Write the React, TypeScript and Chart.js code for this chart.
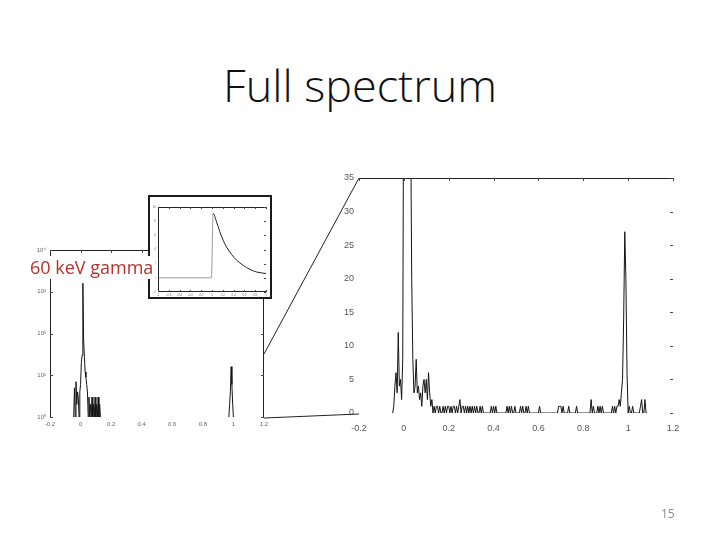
import React, { useEffect, useRef } from "react";
import { Chart, registerables } from "chart.js";

Chart.register(...registerables);

// ---------- data ----------
// Main (linear) spectrum: counts per 0.005 energy bin, starting at -0.05
const SPEC_START = -0.05;
const SPEC_STEP = 0.005;
const specCounts = [
  0, 1, 4, 6, 3, 12, 4, 5, 2, 8,
  60, 400, 1500, 1200, 600, 150, 45, 20, 8, 3, 4, 8, 3, 4, 2, 3, 1, 4, 5, 3,
  5, 2, 6, 3, 1, 2, 0, 1, 0, 1, 1, 0, 1, 0, 0, 1, 0, 1, 0, 1,
  1, 0, 1, 0, 1, 1, 0, 1, 0, 1, 2, 0, 1, 1, 0, 1, 0, 1, 0, 1,
  0, 1, 0, 1, 0, 1, 0, 0, 1, 0, 1, 0, 0, 0, 0, 0, 0, 0, 1, 0,
  1, 0, 1, 0, 0, 0, 0, 0, 0, 0, 0, 0, 1, 0, 1, 0, 1, 0, 0, 1,
  0, 0, 0, 0, 1, 0, 1, 0, 0, 1, 0, 1, 0, 0, 0, 0, 0, 0, 0, 0,
  0, 1, 0, 0, 0, 0, 0, 0, 0, 0, 0, 0, 0, 0, 0, 0, 0, 0, 1, 1,
  1, 0, 1, 0, 0, 0, 0, 1, 0, 0, 0, 0, 0, 0, 1, 0, 0, 0, 0, 0,
  0, 0, 0, 0, 0, 0, 0, 2, 0, 1, 0, 0, 0, 1, 0, 1, 0, 1, 0, 0,
  0, 0, 0, 0, 0, 0, 1, 0, 1, 0, 1, 1, 2, 1, 3, 5, 14, 27, 20, 6,
  0, 1, 0, 0, 1, 0, 0, 0, 0, 0, 0, 1, 2, 0, 0, 2, 0, 0,
];
const specTicksX = [-0.2, 0, 0.2, 0.4, 0.6, 0.8, 1, 1.2];
const specTicksY = [0, 5, 10, 15, 20, 25, 30, 35];

// Log-scale overview: two clusters
const lowEnergy = [
  -0.05, -0.045, -0.04, -0.035, -0.03, -0.025, -0.02, -0.015, -0.01, -0.005,
  0, 0.005, 0.01, 0.015, 0.02, 0.025, 0.03, 0.035, 0.04, 0.045,
  0.05, 0.055, 0.06, 0.065, 0.07, 0.075, 0.08, 0.085, 0.09, 0.095,
  0.1, 0.105, 0.11, 0.115, 0.12, 0.125, 0.13,
];
const lowCounts = [
  1, 1, 5, 1, 7, 2, 4, 3, 1, 4,
  6, 20, 30, 1600, 70, 28, 12, 9, 6, 4,
  1, 3, 1, 2, 1, 3, 1, 2, 1, 3,
  1, 2, 1, 3, 1, 2, 1,
];
const highEnergy = [0.97, 0.975, 0.98, 0.985, 0.99, 0.995, 1.0, 1.005];
const highCounts = [1, 2, 4, 16, 6, 2, 1, 1];
const logTicksY = [1, 10, 100, 1000, 10000];

// Inset: pulse shape
const pulseTime = [-1, -0.01, 0.02, 0.084, 0.146, 0.207, 0.269, 0.362, 0.455, 0.579, 0.703, 0.827, 1.0];
const pulseAmp = [0, 0, 9.1, 7.9, 6.5, 5.3, 4.35, 3.3, 2.5, 1.76, 1.2, 0.82, 0.62];
const pulseTicksX = [-1, -0.8, -0.6, -0.4, -0.2, 0, 0.2, 0.4, 0.6, 0.8, 1];
const pulseTicksY = [-2, 0, 2, 4, 6, 8, 10];

// ---------- helpers ----------
const AXIS_FONT = "'Liberation Sans', Arial, sans-serif";
const SUP = ["⁰", "¹", "²", "³", "⁴", "⁵"];

const fmt = (v: number) => String(+v.toFixed(2));

const boxPlugin = {
  id: "mbox",
  afterDraw(chart: any, _args: any, opts: any) {
    const { ctx, chartArea } = chart;
    const { left, right, top, bottom } = chartArea;
    ctx.save();
    ctx.strokeStyle = opts.color || "#222";
    ctx.lineWidth = opts.width || 1;
    const b = opts.border || {};
    ctx.beginPath();
    if (b.top) { ctx.moveTo(left, top + 0.5); ctx.lineTo(right, top + 0.5); }
    if (b.bottom) { ctx.moveTo(left, bottom - 0.5); ctx.lineTo(right, bottom - 0.5); }
    if (b.left) { ctx.moveTo(left + 0.5, top); ctx.lineTo(left + 0.5, bottom); }
    if (b.right) { ctx.moveTo(right - 0.5, top); ctx.lineTo(right - 0.5, bottom); }
    ctx.stroke();
    const len = opts.tickLen || 3;
    const t = opts.ticks || {};
    const xs = chart.scales.x;
    const ys = chart.scales.y;
    ctx.lineWidth = 1;
    ctx.strokeStyle = opts.tickColor || "#444";
    ctx.beginPath();
    xs.ticks.forEach((tk: any) => {
      const p = Math.round(xs.getPixelForValue(tk.value)) + 0.5;
      if (t.top) { ctx.moveTo(p, top); ctx.lineTo(p, top + len); }
      if (t.bottom) { ctx.moveTo(p, bottom); ctx.lineTo(p, bottom - len); }
    });
    ys.ticks.forEach((tk: any) => {
      const p = Math.round(ys.getPixelForValue(tk.value)) + 0.5;
      if (t.left) { ctx.moveTo(left, p); ctx.lineTo(left + len, p); }
      if (t.right) { ctx.moveTo(right, p); ctx.lineTo(right - len, p); }
    });
    ctx.stroke();
    ctx.restore();
  },
};

function fixX(h: number) {
  return (s: any) => {
    s.height = h;
    s.paddingLeft = 0;
    s.paddingRight = 0;
  };
}
function fixY(w: number) {
  return (s: any) => {
    s.width = w;
    s.paddingTop = 0;
    s.paddingBottom = 0;
  };
}

function useChart(ref: React.RefObject<HTMLCanvasElement>, make: () => any) {
  useEffect(() => {
    if (!ref.current) return;
    const c = new Chart(ref.current, make());
    return () => c.destroy();
  }, []);
}

// ---------- charts ----------
function SpectrumLinear() {
  const ref = useRef<HTMLCanvasElement>(null);
  useChart(ref, () => ({
    type: "line",
    data: {
      datasets: [
        {
          data: specCounts.map((c, i) => ({ x: +(SPEC_START + i * SPEC_STEP).toFixed(3), y: c })),
          borderColor: "#141414",
          borderWidth: 1,
          pointRadius: 0,
          tension: 0,
        },
      ],
    },
    options: {
      responsive: false,
      animation: false,
      events: [],
      layout: { padding: { top: 10, right: 7, left: 0, bottom: 0 } },
      plugins: {
        legend: { display: false },
        tooltip: { enabled: false },
        mbox: { border: { top: true }, ticks: { top: true, right: true }, tickLen: 3 },
      },
      scales: {
        x: {
          type: "linear",
          min: -0.2,
          max: 1.2,
          afterBuildTicks: (s: any) => { s.ticks = specTicksX.map((v) => ({ value: v })); },
          afterFit: fixX(25),
          grid: { display: false, drawTicks: false },
          border: { display: false },
          ticks: { font: { family: AXIS_FONT, size: 9 }, color: "#555", padding: 10, maxRotation: 0, autoSkip: false, callback: (v: any) => fmt(+v) },
        },
        y: {
          type: "linear",
          min: 0,
          max: 35,
          afterBuildTicks: (s: any) => { s.ticks = specTicksY.map((v) => ({ value: v })); },
          afterFit: fixY(29),
          grid: { display: false, drawTicks: false },
          border: { display: false },
          ticks: { font: { family: AXIS_FONT, size: 9 }, color: "#555", padding: 5, autoSkip: false },
        },
      },
    },
    plugins: [boxPlugin],
  }));
  return <canvas ref={ref} width={350} height={270} style={{ position: "absolute", left: 330, top: 168 }} />;
}

function SpectrumLog() {
  const ref = useRef<HTMLCanvasElement>(null);
  useChart(ref, () => ({
    type: "line",
    data: {
      datasets: [
        {
          data: lowEnergy.map((e, i) => ({ x: e, y: lowCounts[i] })),
          borderColor: "#141414",
          borderWidth: 1,
          pointRadius: 0,
          tension: 0,
        },
        {
          data: highEnergy.map((e, i) => ({ x: e, y: highCounts[i] })),
          borderColor: "#141414",
          borderWidth: 1,
          pointRadius: 0,
          tension: 0,
        },
      ],
    },
    options: {
      responsive: false,
      animation: false,
      events: [],
      layout: { padding: { top: 10, right: 11, left: 0, bottom: 0 } },
      plugins: {
        legend: { display: false },
        tooltip: { enabled: false },
        mbox: { border: { top: true, left: true, right: true }, ticks: { top: true, left: true, right: true }, tickLen: 3 },
      },
      scales: {
        x: {
          type: "linear",
          min: -0.2,
          max: 1.2,
          afterBuildTicks: (s: any) => { s.ticks = specTicksX.map((v) => ({ value: v })); },
          afterFit: fixX(18),
          grid: { display: false, drawTicks: false },
          border: { display: false },
          ticks: { font: { family: AXIS_FONT, size: 6 }, color: "#666", padding: 4, maxRotation: 0, autoSkip: false, callback: (v: any) => fmt(+v) },
        },
        y: {
          type: "logarithmic",
          min: 1,
          max: 10000,
          afterBuildTicks: (s: any) => { s.ticks = logTicksY.map((v) => ({ value: v })); },
          afterFit: fixY(30),
          grid: { display: false, drawTicks: false },
          border: { display: false },
          ticks: {
            font: { family: AXIS_FONT, size: 6 },
            color: "#666",
            padding: 4,
            autoSkip: false,
            callback: (v: any) => "10" + SUP[Math.round(Math.log10(+v))],
          },
        },
      },
    },
    plugins: [boxPlugin],
  }));
  return <canvas ref={ref} width={255} height={195} style={{ position: "absolute", left: 20, top: 240 }} />;
}

function PulseInset() {
  const ref = useRef<HTMLCanvasElement>(null);
  useChart(ref, () => ({
    type: "line",
    data: {
      datasets: [
        {
          data: pulseTime.map((t, i) => ({ x: t, y: pulseAmp[i] })),
          borderColor: "#222",
          borderWidth: 1,
          pointRadius: 0,
          cubicInterpolationMode: "monotone",
          segment: {
            borderColor: (c: any) => (c.p0.parsed.x < 0.02 ? "#9a9a9a" : "#222"),
          },
        },
      ],
    },
    options: {
      responsive: false,
      animation: false,
      events: [],
      layout: { padding: { top: 10, right: 4, left: 0, bottom: 0 } },
      plugins: {
        legend: { display: false },
        tooltip: { enabled: false },
        mbox: { border: { top: true, left: true, bottom: true }, ticks: { top: true, right: true, bottom: true }, tickLen: 2 },
      },
      scales: {
        x: {
          type: "linear",
          min: -1,
          max: 1,
          afterBuildTicks: (s: any) => { s.ticks = pulseTicksX.map((v) => ({ value: v })); },
          afterFit: fixX(5),
          grid: { display: false, drawTicks: false },
          border: { display: false },
          ticks: { font: { family: AXIS_FONT, size: 3 }, color: "#777", padding: 1, maxRotation: 0, autoSkip: false, callback: (v: any) => fmt(+v) },
        },
        y: {
          type: "linear",
          min: -2,
          max: 10,
          afterBuildTicks: (s: any) => { s.ticks = pulseTicksY.map((v) => ({ value: v })); },
          afterFit: fixY(8),
          grid: { display: false, drawTicks: false },
          border: { display: false },
          ticks: { font: { family: AXIS_FONT, size: 3 }, color: "#777", padding: 2, autoSkip: false },
        },
      },
    },
    plugins: [boxPlugin],
  }));
  return (
    <div
      style={{
        position: "absolute",
        left: 148,
        top: 195,
        width: 124,
        height: 104,
        border: "2px solid #1a1a1a",
        boxSizing: "border-box",
        background: "#fff",
      }}
    >
      <canvas ref={ref} width={120} height={100} style={{ display: "block" }} />
    </div>
  );
}

export default function App() {
  return (
    <div
      style={{
        position: "absolute",
        left: 0,
        top: 0,
        width: 720,
        height: 540,
        background: "#fff",
        overflow: "hidden",
        fontFamily: "'Open Sans', 'Noto Sans', sans-serif",
      }}
    >
      <div
        style={{
          position: "absolute",
          left: 0,
          top: 61,
          width: 720,
          textAlign: "center",
          fontSize: 45,
          fontWeight: 300,
          lineHeight: "48px",
          color: "#111",
        }}
      >
        Full spectrum
      </div>

      <SpectrumLog />
      <PulseInset />
      <SpectrumLinear />

      <svg width={720} height={540} style={{ position: "absolute", left: 0, top: 0, pointerEvents: "none" }}>
        <line x1={264} y1={354} x2={359} y2={178} stroke="#222" strokeWidth={1} />
        <line x1={264} y1={418} x2={359} y2={414} stroke="#222" strokeWidth={1} />
      </svg>

      <div
        style={{
          position: "absolute",
          left: 28,
          top: 256,
          padding: "0 2px",
          background: "#fff",
          color: "#b8302a",
          fontSize: 18,
          lineHeight: "23px",
        }}
      >
        60 keV gamma
      </div>

      <div style={{ position: "absolute", left: 661, top: 505, fontSize: 12, color: "#8a8a8a" }}>15</div>
    </div>
  );
}
